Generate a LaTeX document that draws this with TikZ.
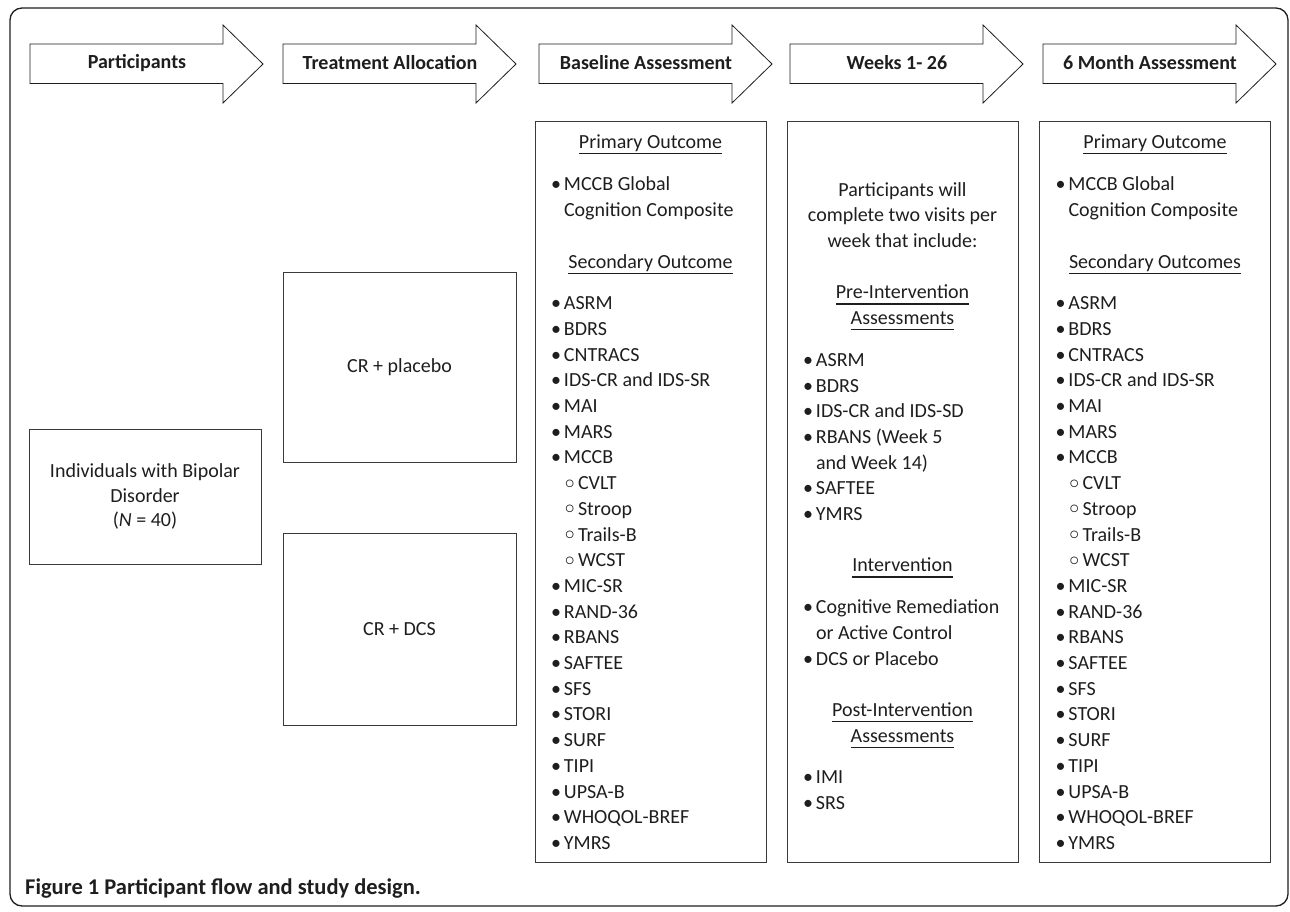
\documentclass[tikz,border=0pt]{standalone}
\usepackage{fontspec}
\setmainfont{Carlito}
\newfontfamily\dejavu{DejaVu Sans}
\definecolor{ink}{HTML}{1E1E1E}
\definecolor{edge}{HTML}{3A3A3A}
\newcommand\bw{231pt}
\newcommand\uln[1]{\setbox0\hbox{#1}\rlap{\rule[-5.6pt]{\wd0}{1.1pt}}\box0}
\newcommand\hd[1]{\makebox[\bw][c]{\uln{#1}}}
\newcommand\cl[1]{\makebox[\bw][c]{#1}}
\newcommand\bl[1]{\hspace*{16pt}\makebox[13pt][l]{\textbullet}#1}
\newcommand\sbl[1]{\hspace*{27pt}\makebox[16pt][l]{\raisebox{-3.5pt}{\dejavu\fontsize{26}{26}\selectfont ◦}}#1}
\newcommand\cont[1]{\hspace*{29pt}#1}
\tikzset{
  flowarrow/.style={draw=ink, line width=0.8pt, fill=white},
  arrowlabel/.style={font=\fontsize{20}{24}\selectfont\bfseries, text=ink},
  colbox/.style={draw=edge, line width=1pt, minimum width=231pt, minimum height=740pt,
     text width=231pt, inner xsep=0pt, inner ysep=0pt, align=flush left, text=ink,
     font=\fontsize{20}{25.7}\selectfont},
  innertext/.style={text width=231pt, inner sep=0pt, align=flush left, text=ink,
     font=\fontsize{20}{25.7}\selectfont},
  groupbox/.style={draw=edge, line width=1pt, align=flush center, text=ink,
     font=\fontsize{20}{24.5}\selectfont, inner sep=0pt},
}
\newcommand\flowarr[3]{%
  \draw[flowarrow] (#2,44) -- (#2+193,44) -- (#2+193,25) -- (#2+233,64) --
     (#2+193,103) -- (#2+193,83.5) -- (#2,83.5) -- cycle;
  \node[arrowlabel] (#1) at (#2+107,63) {#3};}
\begin{document}
\begin{tikzpicture}[x=1pt,y=-1pt]
\useasboundingbox (0,0) rectangle (1290,912);
\draw[ink, line width=1.3pt, rounded corners=12pt] (10,8) rectangle (1288,906);

\flowarr{a1}{30}{Participants}
\flowarr{a2}{283}{Treatment Allocation}
\flowarr{a3}{539}{Baseline Assessment}
\flowarr{a4}{790}{Weeks 1- 26}
\flowarr{a5}{1043}{6 Month Assessment}

\node[groupbox, minimum width=232pt, minimum height=135pt] (indiv) at (145,496.5)
  {Individuals with Bipolar\\Disorder\\(\textit{N} = 40)};
\node[groupbox, minimum width=233pt, minimum height=190pt] (plac) at (399.5,367)
  {CR + placebo};
\node[groupbox, minimum width=233pt, minimum height=192pt] (dcs) at (399.5,629)
  {CR + DCS};

\node[colbox] (base) at (650.5,492) {%
\hd{Primary Outcome}\\[17pt]
\bl{MCCB Global}\\
\cont{Cognition Composite}\\[25.7pt]
\hd{Secondary Outcome}\\[16pt]
\bl{ASRM}\\ \bl{BDRS}\\ \bl{CNTRACS}\\ \bl{IDS-CR and IDS-SR}\\ \bl{MAI}\\
\bl{MARS}\\ \bl{MCCB}\\ \sbl{CVLT}\\ \sbl{Stroop}\\ \sbl{Trails-B}\\ \sbl{WCST}\\
\bl{MIC-SR}\\ \bl{RAND-36}\\ \bl{RBANS}\\ \bl{SAFTEE}\\ \bl{SFS}\\ \bl{STORI}\\
\bl{SURF}\\ \bl{TIPI}\\ \bl{UPSA-B}\\ \bl{WHOQOL-BREF}\\ \bl{YMRS}};

\node[draw=edge, line width=1pt, minimum width=231pt, minimum height=740pt] (weeks) at (902.5,492) {};
\node[innertext] (weekstext) at (902.5,496) {%
\cl{Participants will}\\ \cl{complete two visits per}\\ \cl{week that include:}\\[25.7pt]
\hd{Pre-Intervention}\\ \hd{Assessments}\\[16pt]
\bl{ASRM}\\ \bl{BDRS}\\ \bl{IDS-CR and IDS-SD}\\ \bl{RBANS (Week 5}\\ \cont{and Week 14)}\\
\bl{SAFTEE}\\ \bl{YMRS}\\[25.7pt]
\hd{Intervention}\\[16pt]
\bl{Cognitive Remediation}\\ \cont{or Active Control}\\ \bl{DCS or Placebo}\\[25.7pt]
\hd{Post-Intervention}\\ \hd{Assessments}\\[16pt]
\bl{IMI}\\ \bl{SRS}};

\node[colbox] (month) at (1155,492) {%
\hd{Primary Outcome}\\[17pt]
\bl{MCCB Global}\\
\cont{Cognition Composite}\\[25.7pt]
\hd{Secondary Outcomes}\\[16pt]
\bl{ASRM}\\ \bl{BDRS}\\ \bl{CNTRACS}\\ \bl{IDS-CR and IDS-SR}\\ \bl{MAI}\\
\bl{MARS}\\ \bl{MCCB}\\ \sbl{CVLT}\\ \sbl{Stroop}\\ \sbl{Trails-B}\\ \sbl{WCST}\\
\bl{MIC-SR}\\ \bl{RAND-36}\\ \bl{RBANS}\\ \bl{SAFTEE}\\ \bl{SFS}\\ \bl{STORI}\\
\bl{SURF}\\ \bl{TIPI}\\ \bl{UPSA-B}\\ \bl{WHOQOL-BREF}\\ \bl{YMRS}};

\node[anchor=base west, inner sep=0pt, text=ink, font=\fontsize{22.5}{27}\selectfont\bfseries]
  (caption) at (25,894) {Figure 1 Participant flow and study design.};
\end{tikzpicture}
\end{document}
